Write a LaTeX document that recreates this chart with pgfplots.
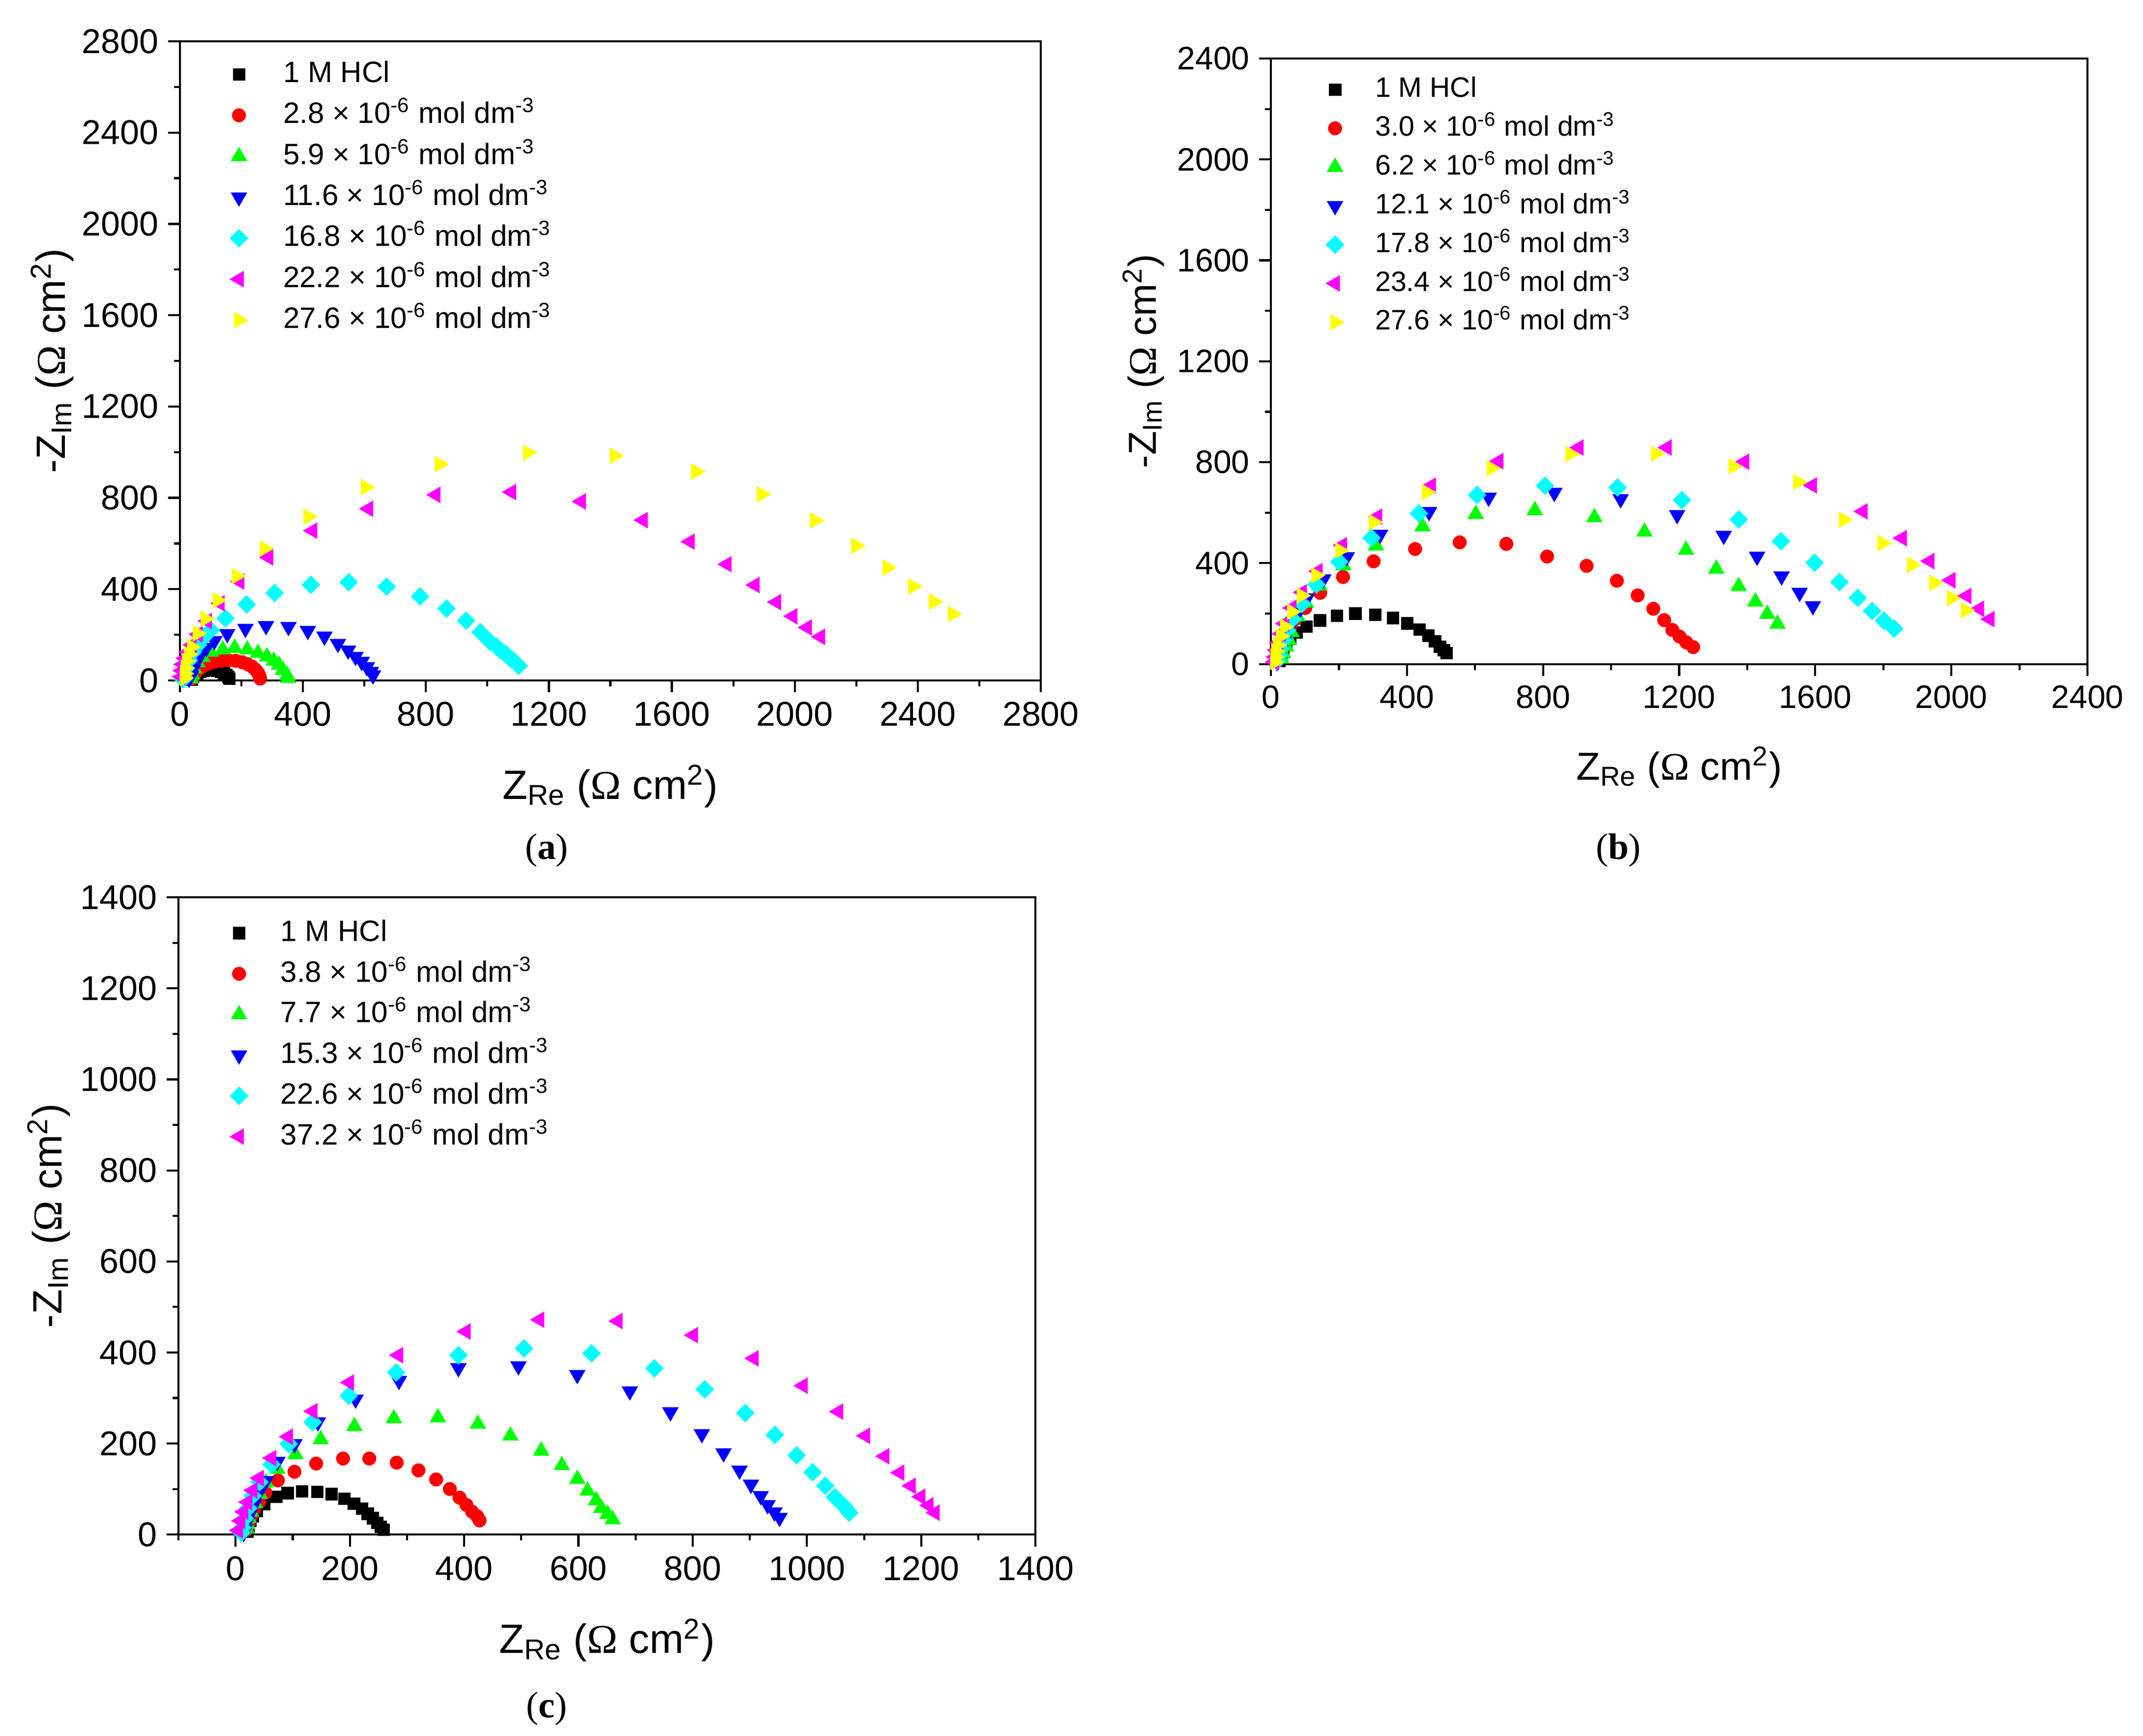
\documentclass[border=0pt]{standalone}
\usepackage{fontspec}
\setmainfont{Liberation Sans}
\newfontfamily\lserif{Liberation Serif}
\usepackage{pgfplots}
\pgfplotsset{compat=1.18}
\definecolor{cK}{RGB}{0,0,0}
\definecolor{cR}{RGB}{255,0,0}
\definecolor{cG}{RGB}{0,255,0}
\definecolor{cB}{RGB}{0,0,255}
\definecolor{cC}{RGB}{0,255,255}
\definecolor{cM}{RGB}{255,0,255}
\definecolor{cY}{RGB}{255,255,0}
\pgfplotsset{
  myimg/.style={legend image code/.code={\path (-4pt,0pt) (4pt,0pt); \draw[##1] plot coordinates {(0pt,0pt)};}},
  sA/.style={only marks, color=cK, mark=square*, mark size=2.2pt, mark options={line width=0.1pt}, myimg},
  sB/.style={only marks, color=cR, mark=*, mark size=2.5pt, mark options={line width=0.1pt}, myimg},
  sC/.style={only marks, color=cG, mark=triangle*, mark size=3.4pt, mark options={line width=0.1pt}, myimg},
  sD/.style={only marks, color=cB, mark=triangle*, mark size=3.4pt, mark options={line width=0.1pt, rotate=180}, myimg},
  sE/.style={only marks, color=cC, mark=square*, mark size=2.35pt, mark options={line width=0.1pt, rotate=45}, myimg},
  sF/.style={only marks, color=cM, mark=triangle*, mark size=3.4pt, mark options={line width=0.1pt, rotate=90}, myimg},
  sG/.style={only marks, color=cY, mark=triangle*, mark size=3.4pt, mark options={line width=0.1pt, rotate=-90}, myimg},
  common/.style={
    scale only axis, anchor=south west, enlargelimits=false,
    tick align=outside, tick pos=left,
    axis line style={line width=0.75pt},
    every tick/.style={black, line width=0.75pt},
    major tick length=4.4pt, minor tick length=2.2pt,
    /pgf/number format/1000 sep={},
    /pgf/number format/assume math mode=true,
    yticklabel style={inner xsep=3.2pt},
    legend cell align=left,
  },
}
\newcommand{\conc}[1]{#1 × 10\textsuperscript{-6} mol dm\textsuperscript{-3}}
\newcommand{\xlab}{Z\textsubscript{Re} ({\lserif Ω} cm\textsuperscript{2})}
\newcommand{\ylab}{-Z\textsubscript{Im} ({\lserif Ω} cm\textsuperscript{2})}
\begin{document}
\begin{tikzpicture}
\path[use as bounding box] (0,0) rectangle (784.62pt,635.4pt);
% ---------------- (a)
\begin{axis}[common,
  at={(65.88pt,386.28pt)}, width=315.18pt, height=234pt,
  xmin=0, xmax=2800, ymin=0, ymax=2800,
  xtick={0,400,...,2800}, ytick={0,400,...,2800},
  minor xtick={200,600,...,2600}, minor ytick={200,600,...,2600},
  tick label style={font=\fontsize{12.6}{15}\selectfont},
  xlabel={\xlab}, ylabel={\ylab},
  label style={font=\fontsize{15}{18}\selectfont},
  xlabel style={at={(axis description cs:0.5,-0.1855)}, anchor=base},
  ylabel style={at={(axis description cs:-0.1333,0.5)}, rotate=0, anchor=base},
  legend style={at={(axis description cs:0.0546,0.972)}, anchor=north west, draw=none, fill=none,
    inner sep=0pt, font=\fontsize{10.8}{13}\selectfont, row sep=4.3pt, column sep=12pt,
    nodes={inner sep=0pt, text height=8.3pt, text depth=2.4pt}},
]
\addplot[sA] coordinates {(38,5)(42,15)(48,24)(56,32)(66,39)(78,44)(92,47)(107,47)(121,44)(133,39)(143,32)(151,24)(157,16)(160,8)};
\addlegendentry{1 M HCl}
\addplot[sB] coordinates {(40,8)(45,22)(52,36)(62,50)(76,63)(93,74)(113,82)(135,87)(158,88)(181,86)(202,80)(220,71)(235,60)(246,47)(254,33)(259,19)(261,8)};
\addlegendentry{\conc{2.8}}
\addplot[sC] coordinates {(35,8)(39,25)(46,52)(56,79)(73,102)(100,125)(139,135)(178,142)(219,135)(254,120)(283,104)(305,86)(322,68)(335,45)(349,22)(352,10)};
\addlegendentry{\conc{5.9}}
\addplot[sD] coordinates {(30,8)(36,20)(43,48)(53,79)(66,111)(86,143)(112,173)(154,204)(213,227)(280,239)(353,235)(416,218)(470,193)(514,161)(547,132)(571,104)(591,82)(608,59)(621,38)(628,23)};
\addlegendentry{\conc{11.6}}
\addplot[sE] coordinates {(10,5)(12,16)(19,52)(29,88)(42,125)(59,156)(76,188)(100,220)(148,272)(217,333)(308,383)(426,419)(549,430)(672,411)(781,368)(867,315)(931,262)(978,211)(1008,170)(1030,148)(1045,130)(1060,115)(1072,100)(1083,88)(1093,76)(1102,64)};
\addlegendentry{\conc{16.8}}
\addplot[sF] coordinates {(4,16)(6,43)(9,70)(16,97)(26,124)(39,156)(59,202)(88,260)(130,338)(194,433)(288,539)(431,656)(613,752)(832,813)(1078,825)(1305,784)(1506,702)(1659,608)(1779,509)(1870,418)(1940,343)(1993,281)(2040,232)(2083,191)};
\addlegendentry{\conc{22.2}}
\addplot[sG] coordinates {(15,10)(16,30)(18,55)(22,85)(28,115)(39,147)(57,206)(83,270)(122,351)(184,457)(275,578)(417,718)(604,847)(844,948)(1131,998)(1413,984)(1678,915)(1892,815)(2065,701)(2199,590)(2301,494)(2384,412)(2452,345)(2513,291)};
\addlegendentry{\conc{27.6}}
\end{axis}
% ---------------- (b)
\begin{axis}[common,
  at={(465.3pt,392.29pt)}, width=298.98pt, height=221.69pt,
  xmin=0, xmax=2400, ymin=0, ymax=2400,
  xtick={0,400,...,2400}, ytick={0,400,...,2400},
  minor xtick={200,600,...,2200}, minor ytick={200,600,...,2200},
  tick label style={font=\fontsize{11.9}{14}\selectfont},
  xlabel={\xlab}, ylabel={\ylab},
  label style={font=\fontsize{14.3}{17}\selectfont},
  xlabel style={at={(axis description cs:0.5,-0.1917)}, anchor=base},
  ylabel style={at={(axis description cs:-0.1408,0.5)}, rotate=0, anchor=base},
  legend style={at={(axis description cs:0.0639,0.9727)}, anchor=north west, draw=none, fill=none,
    inner sep=0pt, font=\fontsize{10.3}{12.5}\selectfont, row sep=4pt, column sep=10.5pt,
    nodes={inner sep=0pt, text height=7.9pt, text depth=2.3pt}},
]
\addplot[sA] coordinates {(25,13)(31,32)(36,54)(45,77)(56,101)(75,125)(104,149)(144,173)(194,192)(248,200)(307,196)(359,183)(401,161)(437,137)(463,113)(482,90)(497,69)(508,55)(516,43)};
\addlegendentry{1 M HCl}
\addplot[sB] coordinates {(17,10)(20,32)(25,58)(34,88)(45,118)(56,144)(72,178)(101,222)(145,282)(212,345)(302,407)(424,456)(555,482)(692,476)(812,426)(928,389)(1017,330)(1078,272)(1124,219)(1156,174)(1180,135)(1201,109)(1221,86)(1241,67)};
\addlegendentry{\conc{3.0}}
\addplot[sC] coordinates {(31,21)(36,43)(45,69)(53,95)(61,125)(78,188)(103,243)(143,310)(213,390)(309,469)(446,545)(602,594)(776,609)(951,581)(1098,524)(1220,452)(1309,377)(1375,308)(1424,247)(1459,198)(1489,159)};
\addlegendentry{\conc{6.2}}
\addplot[sD] coordinates {(18,8)(22,28)(28,55)(37,85)(48,120)(62,160)(80,205)(106,261)(154,336)(223,424)(321,513)(465,603)(640,660)(833,679)(1028,654)(1194,591)(1331,509)(1429,426)(1501,348)(1554,283)(1593,230)};
\addlegendentry{\conc{12.1}}
\addplot[sE] coordinates {(18,12)(22,35)(28,62)(36,95)(47,133)(64,178)(92,239)(134,315)(201,405)(296,500)(435,597)(606,670)(806,707)(1019,700)(1208,650)(1375,573)(1499,487)(1598,401)(1671,325)(1725,262)(1767,210)(1802,172)(1832,140)};
\addlegendentry{\conc{17.8}}
\addplot[sF] coordinates {(10,8)(12,28)(16,55)(22,85)(30,120)(40,160)(61,222)(92,284)(138,368)(210,471)(313,584)(471,707)(669,804)(905,858)(1164,858)(1392,802)(1591,708)(1740,605)(1855,499)(1936,408)(1998,332)(2045,270)(2082,219)(2113,178)};
\addlegendentry{\conc{23.4}}
\addplot[sG] coordinates {(12,8)(13,28)(15,50)(20,75)(29,110)(41,148)(62,207)(90,271)(133,352)(203,450)(302,562)(458,681)(648,776)(880,832)(1131,834)(1359,784)(1549,721)(1683,572)(1797,479)(1884,393)(1949,322)(2001,261)(2042,213)};
\addlegendentry{\conc{27.6}}
\end{axis}
% ---------------- (c)
\begin{axis}[common,
  at={(65.34pt,73.58pt)}, width=313.79pt, height=233.3pt,
  xmin=-100, xmax=1400, ymin=0, ymax=1400,
  xtick={0,200,...,1400}, ytick={0,200,...,1400},
  minor xtick={-100,100,...,1300}, minor ytick={100,300,...,1300},
  tick label style={font=\fontsize{12.6}{15}\selectfont},
  xlabel={\xlab}, ylabel={\ylab},
  label style={font=\fontsize{15}{18}\selectfont},
  xlabel style={at={(axis description cs:0.5,-0.1865)}, anchor=base},
  ylabel style={at={(axis description cs:-0.1361,0.5)}, rotate=0, anchor=base},
  legend style={at={(axis description cs:0.0567,0.9676)}, anchor=north west, draw=none, fill=none,
    inner sep=0pt, font=\fontsize{10.8}{13}\selectfont, row sep=4.2pt, column sep=11pt,
    nodes={inner sep=0pt, text height=8.3pt, text depth=2.4pt}},
]
\addplot[sA] coordinates {(20.5,7)(22,17)(25.4,30)(30.4,40)(37,52)(50,67)(71,83)(91,91)(116,95)(143,94)(168,89)(190,79)(207,68)(221,57)(231,46)(240,36)(248,26)(254,17)(259,11)};
\addlegendentry{1 M HCl}
\addplot[sB] coordinates {(19.5,11)(23,26)(27,40)(32,55)(41,72)(52,92)(74,119)(103,138)(141,156)(188,167)(234,167)(282,158)(320,141)(351,121)(375,100)(392,81)(404,65)(414,50)(423,40)(427,31)};
\addlegendentry{\conc{3.8}}
\addplot[sC] coordinates {(19,13)(20,23)(23,36)(27,50)(34,69)(42,89)(53,114)(73,144)(105,176)(149,209)(208,238)(277,255)(354,257)(424,243)(481,217)(535,184)(571,152)(598,122)(616,96)(631,75)(640,58)(651,45)(660,33)};
\addlegendentry{\conc{7.7}}
\addplot[sD] coordinates {(14,4)(16,12)(20,28)(25,45)(32,66)(40,90)(53,118)(73,160)(103,199)(144,247)(210,297)(286,338)(390,366)(495,370)(598,351)(690,315)(761,269)(816,221)(854,179)(882,141)(902,110)(919,85)(931,65)(943,49)(952,37)};
\addlegendentry{\conc{15.3}}
\addplot[sE] coordinates {(10,4)(12,15)(16,35)(22,58)(30,85)(42,115)(63,154)(93,199)(135,247)(198,305)(281,356)(390,394)(505,409)(623,398)(733,365)(821,319)(892,267)(944,219)(982,174)(1010,137)(1032,107)(1049,82)(1057,72)(1066,61)(1074,48)};
\addlegendentry{\conc{22.6}}
\addplot[sF] coordinates {(4.6,9)(8.5,30)(14,50)(21,71)(30,97)(41,124)(63,168)(92,215)(135,271)(199,334)(285,394)(403,446)(532,472)(669,469)(801,438)(907,387)(993,327)(1055,270)(1102,217)(1136,172)(1162,136)(1182,107)(1199,83)(1213,64)(1224,48)};
\addlegendentry{\conc{37.2}}
\end{axis}
% sub-figure labels
\node[anchor=base, font=\lserif\fontsize{13.5}{16}\selectfont] at (200.16pt,320.76pt) {(\textbf{a})};
\node[anchor=base, font=\lserif\fontsize{13.5}{16}\selectfont] at (592.56pt,320.76pt) {(\textbf{b})};
\node[anchor=base, font=\lserif\fontsize{13.5}{16}\selectfont] at (200.16pt,6.66pt) {(\textbf{c})};
\end{tikzpicture}
\end{document}
